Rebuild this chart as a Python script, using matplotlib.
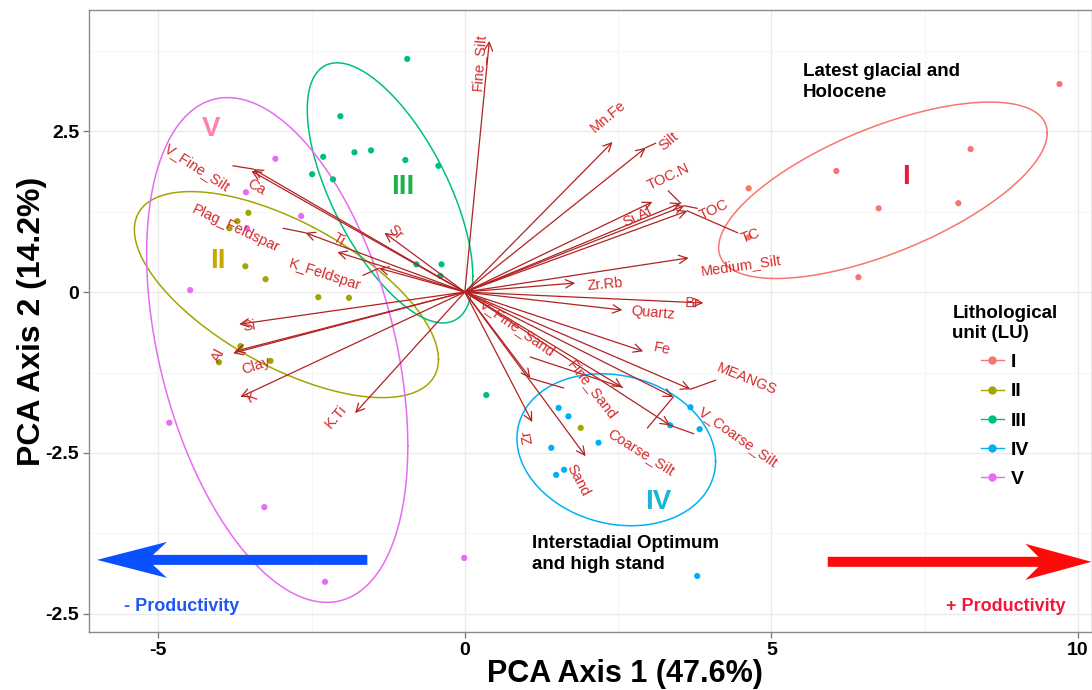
import numpy as np
import matplotlib
matplotlib.use("Agg")
import matplotlib.pyplot as plt
from matplotlib.lines import Line2D
from matplotlib.patches import Polygon

plt.rcParams['font.family'] = ['Liberation Sans', 'DejaVu Sans']

# ---- sample scores per lithological unit ----
units = ["I", "II", "III", "IV", "V"]
unit_colors = ["#F8766D", "#A3A500", "#00BF7D", "#00B0F6", "#E76BF3"]

lu1_pc1 = [9.70, 8.25, 6.06, 6.75, 8.05, 6.42, 4.63, 4.63]
lu1_pc2 = [3.23, 2.22, 1.88, 1.30, 1.38, 0.23, 1.61, 0.85]

lu2_pc1 = [-3.53, -3.71, -3.84, -3.58, -3.25, -2.39, -1.89, -3.66, -4.01, -3.17, 1.89]
lu2_pc2 = [1.23, 1.10, 0.99, 0.40, 0.20, -0.08, -0.09, -0.84, -1.09, -1.07, -2.11]

lu3_pc1 = [-0.94, -2.03, -2.31, -1.80, -1.53, -2.49, -2.15, -0.97, -0.43, -0.79, -0.38, -0.40, 0.35]
lu3_pc2 = [3.62, 2.73, 2.10, 2.17, 2.20, 1.83, 1.75, 2.05, 1.96, 0.43, 0.43, 0.25, -1.60]

lu4_pc1 = [1.53, 1.69, 1.41, 2.18, 1.49, 1.62, 3.35, 3.68, 3.83, 3.79]
lu4_pc2 = [-1.80, -1.93, -2.42, -2.34, -2.84, -2.76, -2.07, -1.79, -2.13, -4.41]

lu5_pc1 = [-3.09, -3.57, -2.67, -3.55, -4.48, -4.82, -3.27, -2.28, -0.01]
lu5_pc2 = [2.07, 1.55, 1.18, 0.99, 0.03, -2.03, -3.34, -4.50, -4.13]

scores = [(lu1_pc1, lu1_pc2), (lu2_pc1, lu2_pc2), (lu3_pc1, lu3_pc2),
          (lu4_pc1, lu4_pc2), (lu5_pc1, lu5_pc2)]

# confidence ellipses: centre, half extents along PC1 / PC2, correlation
ell_cx = [6.82, -2.91, -1.22, 2.47, -3.06]
ell_cy = [1.58, -0.04, 1.54, -2.45, -0.90]
ell_hx = [2.68, 2.48, 1.35, 1.62, 2.13]
ell_hy = [1.37, 1.60, 2.02, 1.18, 3.92]
ell_r = [0.65, -0.63, -0.64, -0.15, -0.38]

# ---- variable loadings (arrow tips) ----
var_names = ["Fine_Silt", "Mn.Fe", "Silt", "Si.Al", "TOC.N", "TOC", "TC",
             "Medium_Silt", "Zr.Rb", "Br", "Quartz", "Fe", "MEANGS",
             "V_Coarse_Silt", "Coarse_Silt", "V_Fine_Sand", "Fine_Sand",
             "Zr", "Sand", "K.Ti", "K", "Al", "Clay", "Si", "K_Feldspar",
             "Ti", "Plag_Feldspar", "Sr", "V_Fine_Silt", "Ca"]
load_pc1 = [0.40, 2.41, 2.95, 3.06, 3.52, 3.58, 3.63,
            3.65, 1.80, 3.89, 2.57, 2.91, 3.68,
            3.35, 3.40, 2.57, 1.07,
            1.10, 1.97, -1.79, -3.66, -3.78, -3.75, -3.68, -1.40,
            -2.08, -2.60, -1.31, -3.45, -3.48]
load_pc2 = [3.90, 2.33, 2.24, 1.40, 1.38, 1.34, 1.26,
            0.53, 0.14, -0.17, -0.28, -0.92, -1.51,
            -2.07, -1.63, -1.48, -1.34,
            -2.02, -2.55, -1.88, -1.63, -0.95, -0.92, -0.50, 0.37,
            0.62, 0.92, 0.92, 1.91, 1.88]

# label placement (x, y, rotation) for the variable names
label_layout = {
    "Fine_Silt": (0.22, 3.57, 86), "Mn.Fe": (2.33, 2.72, 40),
    "Silt": (3.32, 2.34, 40), "Si.Al": (2.82, 1.16, 25),
    "TOC.N": (3.32, 1.79, 25), "TOC": (4.06, 1.27, 25),
    "TC": (4.66, 0.87, 20), "Medium_Silt": (4.51, 0.42, 8),
    "Zr.Rb": (2.29, 0.12, 5), "Br": (3.71, -0.17, -2),
    "Quartz": (3.06, -0.33, -5), "Fe": (3.22, -0.89, -12),
    "MEANGS": (4.59, -1.35, -22), "V_Coarse_Silt": (4.46, -2.25, -35),
    "Coarse_Silt": (2.88, -2.48, -32), "V_Fine_Sand": (0.86, -0.56, -35),
    "Fine_Sand": (2.08, -1.51, -52), "Zr": (1.02, -2.25, 100),
    "Sand": (1.84, -2.92, -62), "K.Ti": (-2.10, -1.93, 50),
    "K": (-3.47, -1.63, 30), "Clay": (-3.40, -1.15, 18),
    "Al": (-4.02, -0.98, 62), "Si": (-3.52, -0.53, 8),
    "K_Feldspar": (-2.29, 0.26, -18), "Ti": (-2.06, 0.81, -30),
    "Plag_Feldspar": (-3.73, 0.98, -25), "Sr": (-1.13, 0.92, -45),
    "V_Fine_Silt": (-4.37, 1.93, -33), "Ca": (-3.40, 1.63, -30),
}
# connector segments from arrow tip to displaced labels
leader_ends = {
    "V_Fine_Silt": (-3.78, 1.96), "Plag_Feldspar": (-2.96, 0.99),
    "K_Feldspar": (-1.66, 0.26), "Silt": (3.11, 2.31),
    "TOC.N": (3.32, 1.57), "TOC": (3.79, 1.30), "TC": (4.45, 0.92),
    "MEANGS": (4.09, -1.37), "V_Coarse_Silt": (3.73, -2.20),
    "Coarse_Silt": (2.98, -2.11), "V_Fine_Sand": (1.07, -1.01),
    "Fine_Sand": (1.61, -1.49),
}

# unit tags inside the plot
tag_pos = {"I": (7.19, 1.79), "II": (-4.02, 0.48), "III": (-1.02, 1.63),
           "IV": (3.16, -3.26), "V": (-4.14, 2.53)}
tag_colors = {"I": "#E8193C", "II": "#C9A800", "III": "#1DB34A",
              "IV": "#1AB5D5", "V": "#FF85A8"}

x_ticks = [-5, 0, 5, 10]
y_ticks = [2.5, 0, -2.5, -5]
y_tick_labels = ["2.5", "0", "-2.5", "-2.5"]

ARROW_C = "#B22222"
TEXT_C = "#D42A2A"

fig = plt.figure(figsize=(10.92, 6.90), dpi=100)
ax = fig.add_axes([89 / 1092, 58 / 690, 1003 / 1092, 622 / 690])
ax.set_xlim(-6.13, 10.23)
ax.set_ylim(-5.28, 4.38)

ax.set_xticks(x_ticks)
ax.set_xticklabels([str(v) for v in x_ticks])
ax.set_yticks(y_ticks)
ax.set_yticklabels(y_tick_labels)
ax.set_xticks([-2.5, 2.5, 7.5], minor=True)
ax.set_yticks([3.75, 1.25, -1.25, -3.75], minor=True)
ax.grid(which="major", color="#EBEBEB", lw=1.0)
ax.grid(which="minor", color="#F5F5F5", lw=0.7)
ax.set_axisbelow(True)
ax.tick_params(which="minor", length=0)
ax.tick_params(which="major", length=4, color="#808080", width=1,
               labelsize=14, labelcolor="black", pad=3)
for lbl in ax.get_xticklabels() + ax.get_yticklabels():
    lbl.set_fontweight("bold")
for sp in ax.spines.values():
    sp.set_color("#8A8A8A")
    sp.set_linewidth(1.0)

ax.set_xlabel("PCA Axis 1 (47.6%)", fontsize=22, fontweight="bold", va="center")
ax.xaxis.set_label_coords((625 - 89) / 1003, -(674 - 632) / 622)
ax.set_ylabel("PCA Axis 2 (14.2%)", fontsize=23, fontweight="bold", va="center")
ax.yaxis.set_label_coords(-(89 - 32) / 1003, 0.5)

# ellipses
t = np.linspace(0, 2 * np.pi, 300)
for i, c in enumerate(unit_colors):
    r = ell_r[i]
    ex = ell_cx[i] + ell_hx[i] * np.cos(t)
    ey = ell_cy[i] + ell_hy[i] * (r * np.cos(t) + np.sqrt(1 - r ** 2) * np.sin(t))
    ax.plot(ex, ey, color=c, lw=1.1, zorder=2)

# sample points
for (px, py), c in zip(scores, unit_colors):
    ax.scatter(px, py, s=20, color=c, edgecolors="none", zorder=3)

# loading arrows
for name, lx, ly in zip(var_names, load_pc1, load_pc2):
    ax.annotate("", xy=(lx, ly), xytext=(0, 0),
                arrowprops=dict(arrowstyle="->,head_length=0.6,head_width=0.3",
                                color=ARROW_C, lw=0.9, shrinkA=0, shrinkB=0),
                zorder=4)
    if name in leader_ends:
        ex, ey = leader_ends[name]
        ax.plot([lx, ex], [ly, ey], color=ARROW_C, lw=0.9, zorder=4)
    tx, ty, rot = label_layout[name]
    ax.text(tx, ty, name, color=TEXT_C, fontsize=10.5, rotation=rot,
            rotation_mode="anchor", ha="center", va="center", zorder=5)

# unit tags
for u in units:
    x, y = tag_pos[u]
    ax.text(x, y, u, color=tag_colors[u], fontsize=20, fontweight="bold",
            ha="center", va="center", zorder=5)

# period annotations
ax.text(5.51, 3.56, "Latest glacial and\nHolocene", fontsize=13.5,
        fontweight="bold", ha="left", va="top", linespacing=1.3, zorder=5)
ax.text(1.10, -3.78, "Interstadial Optimum\nand high stand", fontsize=13.5,
        fontweight="bold", ha="left", va="top", linespacing=1.3, zorder=5)


def big_arrow(tail, tip, color, head_len, head_half, notch, shaft_half):
    p0 = ax.transData.transform(tail)
    p1 = ax.transData.transform(tip)
    d = (p1 - p0) / np.hypot(*(p1 - p0))
    n = np.array([-d[1], d[0]])
    base = p1 - d * (head_len - notch)
    back = p1 - d * head_len
    verts = [p0 + n * shaft_half, base + n * shaft_half, back + n * head_half,
             p1, back - n * head_half, base - n * shaft_half, p0 - n * shaft_half]
    verts = ax.transData.inverted().transform(np.array(verts))
    ax.add_patch(Polygon(verts, closed=True, facecolor=color, edgecolor="none",
                         zorder=5, clip_on=False))


big_arrow((-1.59, -4.16), (-6.00, -4.16), "#0A50FF", 70, 18, 14, 5)
big_arrow((5.92, -4.19), (10.22, -4.19), "#FF0A0A", 66, 18, 13, 5)
ax.text(-4.62, -4.88, "- Productivity", color="#2157F0", fontsize=13,
        fontweight="bold", ha="center", va="center", zorder=5)
ax.text(8.82, -4.88, "+ Productivity", color="#F5163B", fontsize=13,
        fontweight="bold", ha="center", va="center", zorder=5)

# legend
handles = [Line2D([0], [0], color=c, marker="o", markersize=5, lw=1)
           for c in unit_colors]
leg = ax.legend(handles, units, title="Lithological\nunit (LU)", loc="upper left",
                bbox_to_anchor=(0.851, 0.542), frameon=False, borderpad=0,
                prop={"weight": "bold", "size": 14},
                title_fontproperties={"weight": "bold", "size": 13.5},
                handlelength=1.2, handletextpad=0.35, labelspacing=0.6)
leg.get_title().set_linespacing(1.25)

fig.savefig("out.png", dpi=100)
